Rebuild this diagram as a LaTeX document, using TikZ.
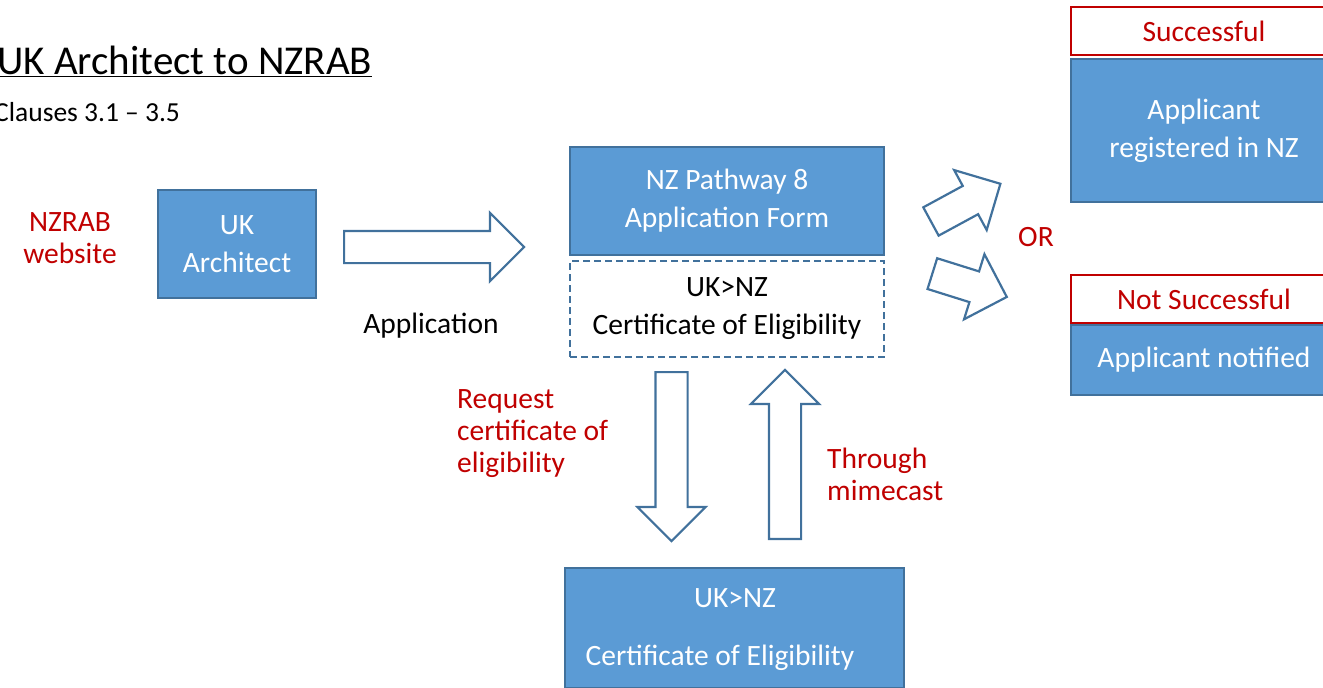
\documentclass[tikz,border=0pt]{standalone}
\usepackage{fontspec}
\setmainfont{Carlito}
\usetikzlibrary{shapes.arrows}
\definecolor{boxblue}{HTML}{5B9BD5}
\definecolor{edgeblue}{HTML}{41719C}
\definecolor{darkred}{HTML}{C00000}

\begin{document}
\begin{tikzpicture}[x=1pt,y=-1pt,
    txt/.style={font=\fontsize{29.5}{38}\selectfont,inner sep=0pt},
    redtxt/.style={txt,text=darkred,font=\fontsize{29.5}{32}\selectfont},
    bluebox/.style={draw=edgeblue,line width=1.8pt,fill=boxblue,text=white,align=center,txt},
    redbox/.style={draw=darkred,line width=2pt,fill=white,text=darkred,txt},
    bigarrow/.style={shape=single arrow,draw=edgeblue,line width=2.2pt,fill=white,anchor=tail,
      inner xsep=0pt,inner ysep=15pt,single arrow head extend=18pt}]
      \useasboundingbox (0,0) rectangle (1323,688);
      \clip (0,0) rectangle (1323,688);
      % headings
      \node[txt,anchor=west,font=\fontsize{41}{46}\selectfont] (title) at (-3,61) {\underline{UK Architect to NZRAB}};
      \node[txt,anchor=west,font=\fontsize{27.5}{32}\selectfont] (clauses) at (-6,112) {Clauses 3.1 -- 3.5};
      % left part
      \node[redtxt,align=center] (web) at (70,238) {NZRAB\\website};
      \node[bluebox,minimum width=158,minimum height=108] (arch) at (237,244) {UK\\Architect};
      \node[bigarrow,minimum height=180] (apparrow) at (343,247) {};
      \node[txt] (applbl) at (431,326) {Application};
      % form
      \node[bluebox,minimum width=314,minimum height=108] (form) at (727,201) {NZ Pathway 8\\Application Form};
      \node[txt,draw=edgeblue,line width=1.8pt,dash pattern=on 7pt off 4pt,align=center,minimum width=314,minimum height=96] (elig) at (727,309) {UK>NZ\\Certificate of Eligibility};
      % request and reply
      \node[bigarrow,minimum height=169,rotate=-90] (down) at (671.5,371) {};
      \node[bigarrow,minimum height=169,rotate=90] (up) at (785,540) {};
      \node[redtxt,align=left,anchor=north west] (req) at (457,389) {Request\\certificate of\\eligibility};
      \node[redtxt,align=left,anchor=north west] (mime) at (827,448) {Through\\mimecast};
      \node[bluebox,minimum width=339,minimum height=120] (cert) at (734.5,628) {};
      \node[txt,text=white] (certtop) at (735,598) {UK>NZ};
      \node[txt,text=white] (certbot) at (720,658) {Certificate of Eligibility};
      % outcome
      \node[bigarrow,minimum height=79,rotate=28.5] (yes) at (930,222) {};
      \node[bigarrow,minimum height=78,rotate=-17.4] (no) at (931.3,273.3) {};
      \node[redtxt] (or) at (1036,237) {OR};
      \node[redbox,minimum width=266,minimum height=48] (succ) at (1204,31) {Successful};
      \node[bluebox,minimum width=266,minimum height=143] (reg) at (1204,130.5) {Applicant\\registered in NZ};
      \node[redbox,minimum width=266,minimum height=48] (nosucc) at (1204,299) {Not Successful};
      \node[bluebox,minimum width=266,minimum height=70] (notif) at (1204,360) {Applicant notified};
    \end{tikzpicture}
\end{document}
